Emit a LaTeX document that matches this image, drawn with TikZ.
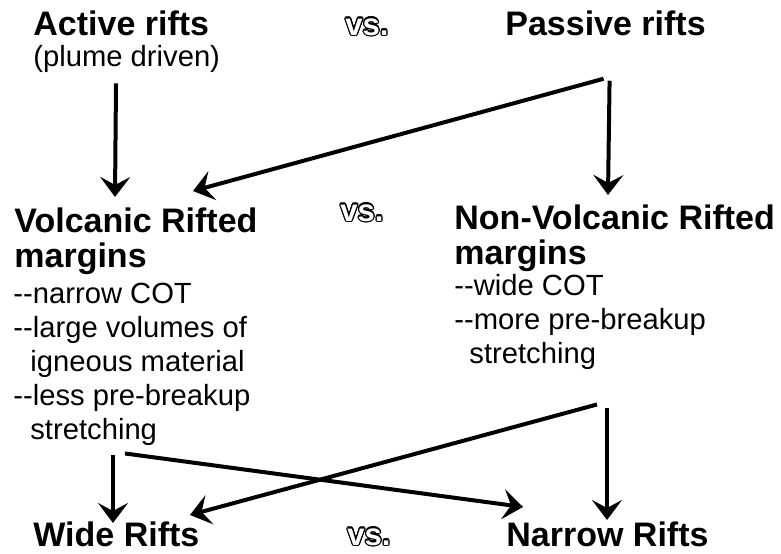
\documentclass[tikz,border=0pt]{standalone}
\usepackage{fontspec}
\setmainfont{Liberation Sans}
\usepackage{xcolor}
\usepackage{contour}
\contourlength{0.6pt}
\usepackage{tikz}
\usetikzlibrary{arrows.meta,positioning,calc}

\begin{document}
\begin{tikzpicture}[
    x=0.5pt, y=-0.5pt,
    title/.style={anchor=base west, inner sep=0, align=left, font=\fontsize{17}{17.5}\selectfont\bfseries},
    notes/.style={anchor=base west, inner sep=0, align=left, font=\fontsize{14.6}{17}\selectfont},
    versus/.style={anchor=base west, inner sep=0, text=white, font=\fontsize{15.5}{15.5}\selectfont\bfseries},
    arrow/.style={-{Stealth[length=10pt, width=15pt, inset=4pt]}, line width=2pt}
]
\useasboundingbox (0,0) rectangle (781,553);

% Rift types
\node[title] (active) at (33,35) {Active rifts};
\node[notes] (plume) at (33,66) {(plume driven)};
\node[versus] (vsa) at (345,35) {\contour{black}{vs.}};
\node[title] (passive) at (505,35) {Passive rifts};

% Margin types (base = last line)
\node[title] (volc) at (14,267) {Volcanic Rifted\\margins};
\node[versus] (vsb) at (340,221) {\contour{black}{vs.}};
\node[title] (nonvolc) at (454,264) {Non-Volcanic Rifted\\margins};

\node[notes] (volcnotes) at (13,439) {-{}-narrow COT\\-{}-large volumes of\\\hspace*{8.5pt}igneous material\\-{}-less pre-breakup\\\hspace*{8.5pt}stretching};
\node[notes] (nonvolcnotes) at (454,363) {-{}-wide COT\\-{}-more pre-breakup\\\hspace*{7.5pt}stretching};

% Resulting rifts
\node[title] (wide) at (33,546) {Wide Rifts};
\node[versus] (vsc) at (347,545) {\contour{black}{vs.}};
\node[title] (narrow) at (506,546) {Narrow Rifts};

% Arrows - rifts to margins
\draw[arrow] ($(plume.south west)+(83,11)$) -- ($(volc.north west)+(101,-10)$);
\draw[arrow] ($(passive.south)+(-2,43)$) -- ($(volc.north west)+(179,-16)$);
\draw[arrow] ($(passive.south)+(4,45)$) -- ($(nonvolc.north west)+(154,-9)$);

% Arrows - margins to rifts
\draw[arrow] ($(volcnotes.south west)+(100,10)$) -- ($(wide.north west)+(80,2)$);
\draw[arrow] ($(volcnotes.south west)+(112,8)$) -- ($(narrow.north west)+(17,-14)$);
\draw[arrow] ($(nonvolcnotes.south west)+(143,35)$) -- ($(wide.north west)+(157,-6)$);
\draw[arrow] ($(nonvolcnotes.south west)+(153,39)$) -- ($(narrow.north west)+(101,-1)$);

\end{tikzpicture}
\end{document}
